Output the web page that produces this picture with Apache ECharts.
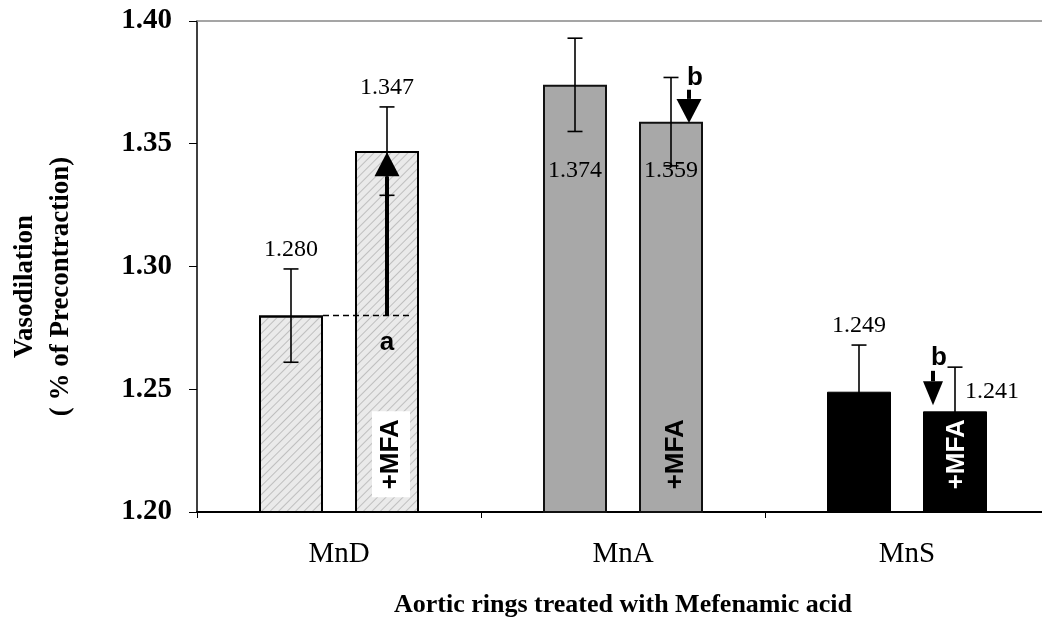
<!DOCTYPE html>
<html><head><meta charset="utf-8">
<script src="https://cdn.jsdelivr.net/npm/echarts@6/dist/echarts.min.js"></script>
<style>html,body{margin:0;padding:0;background:#fff}#chart{width:1042px;height:619px}</style>
</head><body><div id="chart"></div>
<script>
// ---- data ----
const categories = ['MnD', 'MnA', 'MnS'];
const controlValues = [1.280, 1.374, 1.249];
const mfaValues = [1.347, 1.359, 1.241];
const controlErrors = [0.019, 0.019, 0.019];
const mfaErrors = [0.018, 0.018, 0.018];
const yMin = 1.20, yMax = 1.40, yStep = 0.05;
const yTickLabels = ['1.20', '1.25', '1.30', '1.35', '1.40'];
const sigLetters = ['a', 'b', 'b'];
const letterLevels = [1.2688, 1.3770, 1.2630];
const arrowStart = [1.280, 1.372, 1.2575];
const arrowEnd = [1.3465, 1.3585, 1.2435];
const dashedBaseline = [true, false, false];
const mfaTextLevel = 1.2235;
const insideLabelLevel = 1.339;
const controlLabelPlace = ['above', 'inside', 'above'];
const mfaLabelPlace = ['above', 'inside', 'right'];

// ---- style ----
const SERIF = "'Liberation Serif','Times New Roman',serif";
const SANS = "'Liberation Sans',Arial,sans-serif";
const BAR_W = 64, BAR_OFFSET = 48;
const arrowShift = [0, 18, -22];
const letterShift = [0, 24, -16];
const mfaShift = [4, 5, 2];
const mfaColor = ['#000', '#000', '#fff'];
const mfaBg = ['#fff', null, null];
const hatch = {
  symbol: 'rect', symbolSize: 1, dashArrayX: [1, 0], dashArrayY: [1, 5],
  rotation: -Math.PI / 4, color: 'rgba(90,90,90,0.3)'
};
const catStyles = [
  { color: '#eaeaea', borderColor: '#000', borderWidth: 2, decal: hatch },
  { color: '#a8a8a8', borderColor: '#111', borderWidth: 2 },
  { color: '#000', borderColor: '#000', borderWidth: 1 }
];

const errData = [];
categories.forEach((c, i) => {
  errData.push([i, 0, controlValues[i], controlErrors[i]]);
  errData.push([i, 1, mfaValues[i], mfaErrors[i]]);
});
const annData = categories.map((c, i) => [i, arrowStart[i], arrowEnd[i], letterLevels[i]]);

function renderErr(params, api) {
  const ci = api.value(0), si = api.value(1), v = api.value(2), e = api.value(3);
  const base = api.coord([ci, v]);
  const cx = base[0] + (si ? 1 : -1) * BAR_OFFSET;
  const yTop = api.coord([ci, v + e])[1];
  const yBot = api.coord([ci, v - e])[1];
  const cap = 7.5;
  const ls = { stroke: '#000', lineWidth: 1.6 };
  const children = [
    { type: 'line', shape: { x1: cx, y1: yTop, x2: cx, y2: yBot }, style: ls },
    { type: 'line', shape: { x1: cx - cap, y1: yTop, x2: cx + cap, y2: yTop }, style: ls },
    { type: 'line', shape: { x1: cx - cap, y1: yBot, x2: cx + cap, y2: yBot }, style: ls }
  ];
  const place = (si ? mfaLabelPlace : controlLabelPlace)[ci];
  const ts = { text: v.toFixed(3), fill: '#000', fontFamily: SERIF, fontSize: 24 };
  let t;
  if (place === 'above') {
    t = { x: cx, y: yTop - 7, style: Object.assign(ts, { align: 'center', verticalAlign: 'bottom' }) };
  } else if (place === 'inside') {
    t = { x: cx, y: api.coord([ci, insideLabelLevel])[1], style: Object.assign(ts, { align: 'center', verticalAlign: 'middle' }) };
  } else {
    t = { x: cx + 10, y: base[1] - 20, style: Object.assign(ts, { align: 'left', verticalAlign: 'middle' }) };
  }
  t.type = 'text';
  children.push(t);
  return { type: 'group', children };
}

function renderAnn(params, api) {
  const ci = api.value(0);
  const s = api.value(1), en = api.value(2), lv = api.value(3);
  const base = api.coord([ci, mfaValues[ci]]);
  const bx = base[0] + BAR_OFFSET;
  const children = [];
  if (dashedBaseline[ci]) {
    const y0 = api.coord([ci, s])[1];
    children.push({ type: 'line', shape: { x1: bx - 2 * BAR_OFFSET + BAR_W / 2, y1: y0, x2: bx + BAR_W / 2 - 6, y2: y0 },
      style: { stroke: '#000', lineWidth: 1.5, lineDash: [6, 4] } });
  }
  const ax = bx + arrowShift[ci];
  const ys = api.coord([ci, s])[1], ye = api.coord([ci, en])[1];
  const dir = ye < ys ? -1 : 1;
  const hl = 24, hw = ci === 2 ? 10 : 12.5;
  children.push({ type: 'line', shape: { x1: ax, y1: ys, x2: ax, y2: ye - dir * hl }, style: { stroke: '#000', lineWidth: 4 } });
  children.push({ type: 'polygon', shape: { points: [[ax, ye], [ax - hw, ye - dir * hl], [ax + hw, ye - dir * hl]] }, style: { fill: '#000' } });
  children.push({ type: 'text', x: bx + letterShift[ci], y: api.coord([ci, lv])[1],
    style: { text: sigLetters[ci], fill: '#000', fontFamily: SANS, fontWeight: 'bold', fontSize: 26, align: 'center', verticalAlign: 'middle' } });
  const mt = { text: '+MFA', fill: mfaColor[ci], fontFamily: SANS, fontWeight: 'bold', fontSize: 26, align: 'center', verticalAlign: 'middle' };
  if (mfaBg[ci]) { mt.backgroundColor = mfaBg[ci]; mt.padding = [6, 8]; }
  children.push({ type: 'text', x: bx + mfaShift[ci], y: api.coord([ci, mfaTextLevel])[1], rotation: Math.PI / 2, style: mt });
  return { type: 'group', children };
}

const chart = echarts.init(document.getElementById('chart'), null, { renderer: 'canvas' });
chart.setOption({
  animation: false,
  backgroundColor: '#fff',
  grid: { left: 197, top: 21, width: 852, height: 491, containLabel: false, outerBoundsMode: 'none' },
  xAxis: [{
    type: 'category', data: categories, position: 'bottom',
    axisLine: { lineStyle: { color: '#000', width: 2 } },
    axisTick: { show: true, length: 6, lineStyle: { color: '#000' } },
    axisLabel: { fontFamily: SERIF, fontSize: 29, color: '#000', margin: 28 },
    name: 'Aortic rings treated with Mefenamic acid', nameLocation: 'middle', nameGap: 80,
    nameTextStyle: { fontFamily: SERIF, fontSize: 26, fontWeight: 'bold', color: '#000' }
  }, {
    type: 'category', data: categories, position: 'top',
    axisLine: { show: true, lineStyle: { color: '#888', width: 1.5 } },
    axisTick: { show: false }, axisLabel: { show: false }
  }],
  yAxis: {
    type: 'value', min: yMin, max: yMax, interval: yStep,
    axisLine: { show: true, lineStyle: { color: '#000', width: 1.5 } },
    axisTick: { show: true, length: 8, lineStyle: { color: '#000' } },
    splitLine: { show: false },
    axisLabel: {
      fontFamily: SERIF, fontSize: 29, fontWeight: 'bold', color: '#000', margin: 25,
      formatter: v => yTickLabels[Math.round((v - yMin) / yStep)]
    },
    name: 'Vasodilation\n( % of Precontraction)', nameLocation: 'middle', nameGap: 118,
    nameTextStyle: { fontFamily: SERIF, fontSize: 27, fontWeight: 'bold', color: '#000', lineHeight: 36, padding: [0, 40, 0, 0] }
  },
  series: [
    { type: 'bar', name: 'Control', barWidth: BAR_W, barGap: '50%',
      data: controlValues.map((v, i) => ({ value: v, itemStyle: catStyles[i] })) },
    { type: 'bar', name: '+MFA', barWidth: BAR_W, barGap: '50%',
      data: mfaValues.map((v, i) => ({ value: v, itemStyle: catStyles[i] })) },
    { type: 'custom', name: 'errors', renderItem: renderErr, data: errData, encode: { x: 0, y: 2 }, z: 5, clip: false },
    { type: 'custom', name: 'annotations', renderItem: renderAnn, data: annData, encode: { x: 0, y: 1 }, z: 6, clip: false }
  ]
});
</script></body></html>
